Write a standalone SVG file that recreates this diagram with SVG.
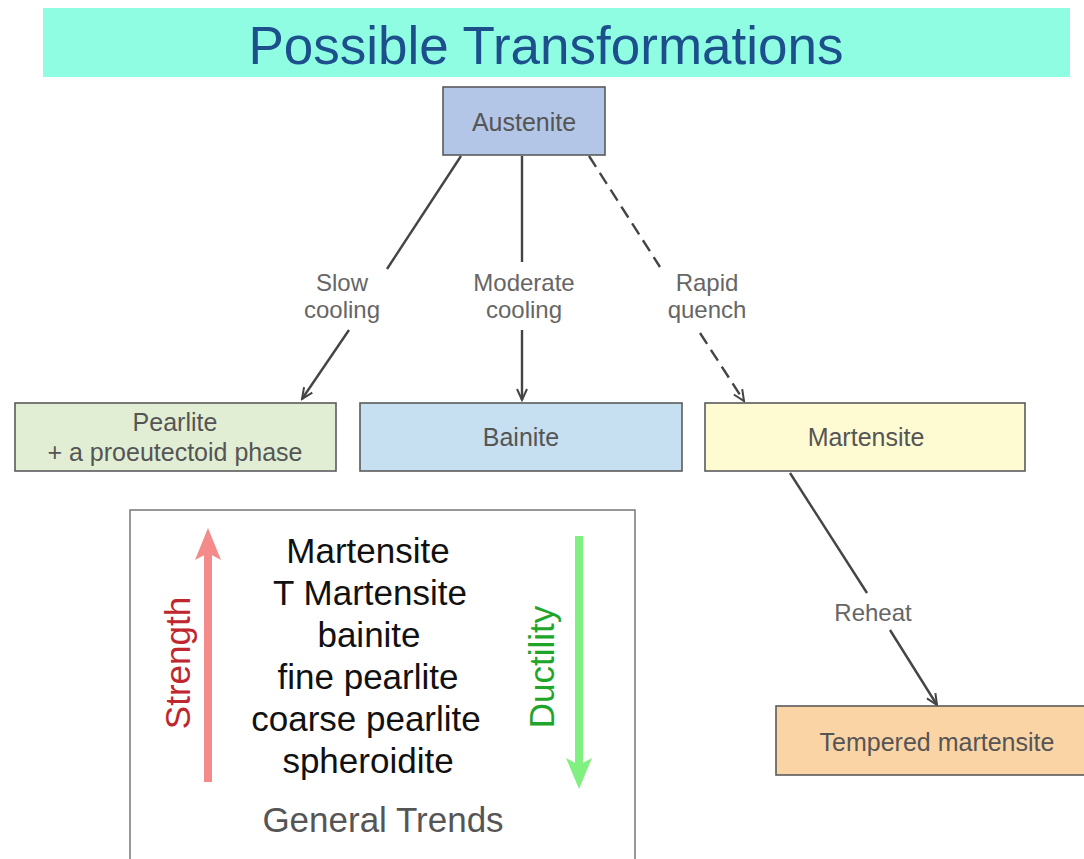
<svg xmlns="http://www.w3.org/2000/svg" width="1084" height="859" viewBox="0 0 1084 859">
<defs>
<style>
.node rect{stroke:#5a5a5a;stroke-width:1.6}
.nt{font-family:"Liberation Sans",Arial,sans-serif;font-size:25px;fill:#555;text-anchor:middle}
.el{font-family:"Liberation Sans",Arial,sans-serif;font-size:24px;fill:#666;text-anchor:middle}
.edge{stroke:#444;stroke-width:2.4;fill:none}
.dash{stroke-dasharray:13 7}
.lt{font-family:"Liberation Sans",Arial,sans-serif;font-size:35px;fill:#111;text-anchor:middle}
</style>
<marker id="ah" markerWidth="14" markerHeight="12" refX="12" refY="6" orient="auto" markerUnits="userSpaceOnUse">
<path d="M1,1 L12,6 L1,11" fill="none" stroke="#444" stroke-width="2"/>
</marker>
</defs>
<rect x="0" y="0" width="1084" height="859" fill="#fff"/>
<g id="title">
<rect x="43" y="8" width="1027" height="69" fill="#8ffde1"/>
<text x="546" y="64" font-family="'Liberation Sans',Arial,sans-serif" font-size="53" fill="#1c4f8c" text-anchor="middle">Possible Transformations</text>
</g>
<g id="connectors">
<line class="edge" x1="461" y1="156" x2="387" y2="269"/>
<line class="edge" x1="349" y1="330" x2="302" y2="399" marker-end="url(#ah)"/>
<line class="edge" x1="522" y1="156" x2="522" y2="262"/>
<line class="edge" x1="522" y1="330" x2="522" y2="400" marker-end="url(#ah)"/>
<line class="edge dash" x1="589" y1="156" x2="660" y2="267"/>
<line class="edge dash" x1="700" y1="333" x2="744" y2="401" marker-end="url(#ah)"/>
<line class="edge" x1="790" y1="473" x2="867" y2="593"/>
<line class="edge" x1="890" y1="630" x2="937" y2="705" marker-end="url(#ah)"/>
<text class="el" x="342" y="291">Slow</text>
<text class="el" x="342" y="318">cooling</text>
<text class="el" x="524" y="291">Moderate</text>
<text class="el" x="524" y="318">cooling</text>
<text class="el" x="707" y="291">Rapid</text>
<text class="el" x="707" y="318">quench</text>
<text class="el" x="873" y="621">Reheat</text>
</g>
<g id="austenite" class="node">
<rect x="443" y="87" width="162" height="68" fill="#b3c6e8"/>
<text class="nt" x="524" y="131">Austenite</text>
</g>
<g id="pearlite" class="node">
<rect x="15" y="403" width="321" height="68" fill="#e1eed4"/>
<text class="nt" x="175" y="431">Pearlite</text>
<text class="nt" x="175" y="461">+ a proeutectoid phase</text>
</g>
<g id="bainite" class="node">
<rect x="360" y="403" width="322" height="68" fill="#c6dff1"/>
<text class="nt" x="521" y="446">Bainite</text>
</g>
<g id="martensite" class="node">
<rect x="705" y="403" width="320" height="68" fill="#fefbd3"/>
<text class="nt" x="866" y="446">Martensite</text>
</g>
<g id="tempered" class="node">
<rect x="776" y="706" width="320" height="69" fill="#fbd4a6"/>
<text class="nt" x="937" y="751">Tempered martensite</text>
</g>
<g id="legend">
<rect x="130" y="510" width="505" height="360" fill="#fff" stroke="#777" stroke-width="1.5"/>
<line x1="208" y1="782" x2="208" y2="552" stroke="#f48a8a" stroke-width="8"/>
<polygon points="208,528 221,560 208,553 195,560" fill="#f48a8a"/>
<line x1="579" y1="536" x2="579" y2="766" stroke="#80f080" stroke-width="8"/>
<polygon points="579,789 566,758 579,765 592,758" fill="#80f080"/>
<text x="190" y="663" transform="rotate(-90 190 663)" font-family="'Liberation Sans',Arial,sans-serif" font-size="35" fill="#c0262e" text-anchor="middle">Strength</text>
<text x="554" y="667" transform="rotate(-90 554 667)" font-family="'Liberation Sans',Arial,sans-serif" font-size="35" fill="#1fa52a" text-anchor="middle">Ductility</text>
<text class="lt" x="368" y="563">Martensite</text>
<text class="lt" x="370" y="605">T Martensite</text>
<text class="lt" x="369" y="647">bainite</text>
<text class="lt" x="368" y="689">fine pearlite</text>
<text class="lt" x="366" y="731">coarse pearlite</text>
<text class="lt" x="368" y="773">spheroidite</text>
<text x="383" y="832" font-family="'Liberation Sans',Arial,sans-serif" font-size="35" fill="#555" text-anchor="middle">General Trends</text>
</g>
</svg>
